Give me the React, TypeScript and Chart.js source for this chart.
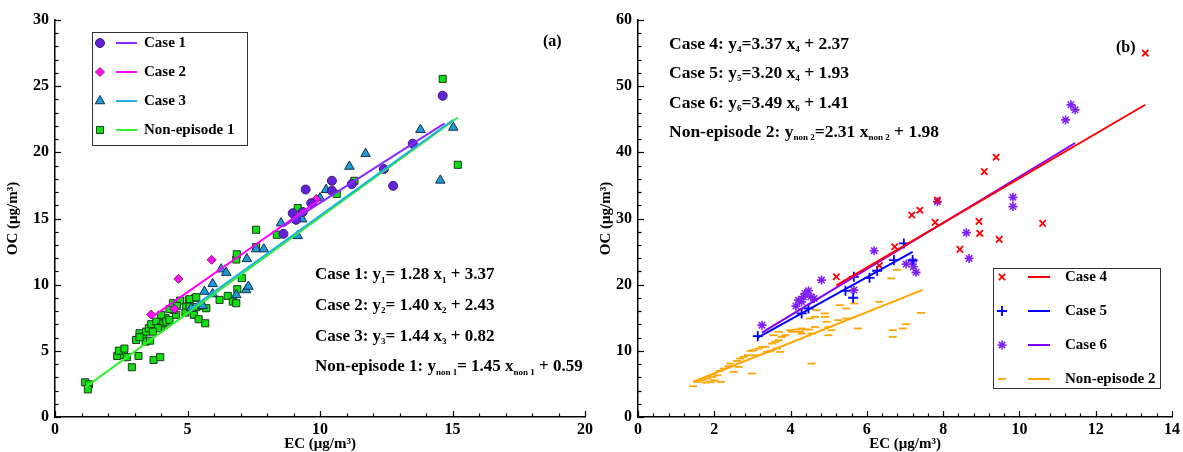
import React, { useEffect, useRef } from 'react';
import { Chart, registerables } from 'chart.js';
import { drawPoint } from 'chart.js/helpers';

Chart.register(...registerables);

const FONT = '"Liberation Serif", "Times New Roman", serif';

// ---------------- Panel (a) data ----------------
const labelsA = ['Case 1', 'Case 2', 'Case 3', 'Non-episode 1'];

const case1EC = [8.62, 8.97, 9.1, 9.35, 9.67, 9.46, 10.45, 10.45, 11.2, 12.41, 12.76, 13.5, 14.63];
const case1OC = [13.84, 15.4, 14.9, 15.5, 16.16, 17.19, 17.85, 17.1, 17.6, 18.74, 17.47, 20.65, 24.28];

const case2EC = [3.63, 4.51, 4.66, 5.91, 9.86];
const case2OC = [7.74, 8.17, 10.44, 11.88, 16.47];

const case3EC = [5.14, 5.58, 5.64, 5.95, 5.95, 6.27, 6.46, 6.84, 7.21, 7.3, 7.24, 7.59, 7.88, 8.53, 9.16, 9.33, 10.0, 10.23, 11.11, 11.72, 13.79, 14.54, 15.03];
const case3OC = [8.22, 8.4, 9.48, 10.06, 9.3, 11.17, 10.91, 9.23, 9.6, 9.86, 11.95, 12.69, 12.69, 14.65, 13.69, 14.95, 16.54, 17.17, 18.93, 19.9, 21.71, 17.88, 21.88];

const non1EC = [1.14, 1.28, 1.24, 2.9, 2.35, 2.6, 2.41, 2.62, 2.71, 3.15, 3.72, 3.97, 3.06, 3.19, 3.31, 3.42, 3.59, 3.44, 3.54, 3.63, 3.82, 4.01, 4.09, 4.17, 4.01, 4.2, 4.32, 3.88, 3.69, 3.19, 4.57, 4.48, 4.32, 4.72, 4.45, 5.05, 5.29, 4.95, 4.92, 5.33, 5.52, 5.71, 5.24, 5.42, 5.67, 6.21, 6.52, 6.71, 6.84, 6.88, 7.05, 6.84, 6.86, 7.59, 7.59, 8.37, 9.16, 10.63, 11.3, 14.63, 15.2, 5.08, 5.33, 5.08, 4.6];
const non1OC = [2.62, 2.47, 2.09, 3.76, 4.61, 4.69, 5.01, 5.17, 4.52, 4.61, 4.31, 4.52, 5.82, 6.33, 6.07, 5.7, 5.77, 6.45, 6.71, 7.01, 7.21, 6.83, 7.08, 7.47, 7.72, 7.21, 7.34, 6.71, 6.45, 6.03, 7.72, 8.09, 8.15, 8.8, 8.6, 8.85, 8.98, 8.34, 7.89, 8.3, 8.4, 8.22, 7.72, 7.39, 7.08, 8.85, 9.15, 8.72, 8.6, 9.66, 10.49, 11.9, 12.3, 12.84, 14.15, 13.77, 15.79, 16.85, 17.85, 25.55, 19.06, 8.9, 9.05, 8.34, 8.4];

// fitted lines (end points)
const fit1EC = [8.6, 14.7];
const fit1OC = [14.38, 22.19];
const fit2EC = [3.63, 9.92];
const fit2OC = [7.51, 16.32];
const fit3EC = [5.14, 15.03];
const fit3OC = [8.22, 22.46];
const fitN1EC = [1.14, 15.2];
const fitN1OC = [2.24, 22.63];

// ---------------- Panel (b) data ----------------
const labelsB = ['Case 4', 'Case 5', 'Case 6', 'Non-episode 2'];

const case4EC = [5.2, 6.33, 6.73, 7.18, 7.39, 7.79, 7.85, 8.44, 8.94, 8.96, 9.08, 9.39, 9.47, 10.61, 13.3];
const case4OC = [21.19, 22.9, 25.73, 30.53, 31.24, 29.42, 32.8, 25.33, 29.57, 27.76, 37.08, 39.26, 26.85, 29.27, 55.0];

const case5EC = [3.14, 4.29, 4.47, 5.44, 5.64, 5.66, 6.07, 6.27, 6.71, 6.97, 7.2];
const case5OC = [12.21, 15.65, 16.4, 19.07, 18.02, 21.19, 21.04, 22.1, 23.72, 26.24, 23.72];

const case6EC = [3.25, 4.14, 4.21, 4.29, 4.34, 4.38, 4.47, 4.53, 4.62, 4.81, 5.66, 6.19, 7.03, 7.2, 7.22, 7.29, 7.85, 8.61, 8.68, 9.83, 9.83, 11.21, 11.35, 11.46];
const case6OC = [13.88, 16.76, 17.66, 17.4, 18.16, 18.67, 19.07, 18.16, 17.92, 20.69, 19.18, 25.13, 23.11, 23.46, 22.7, 21.86, 32.55, 27.86, 23.97, 33.2, 31.8, 44.9, 47.18, 46.42];

const non2EC = [1.45, 1.56, 1.69, 1.78, 1.91, 2.0, 2.17, 1.82, 1.95, 2.08, 2.14, 2.25, 2.38, 2.51, 2.42, 2.6, 2.68, 2.77, 2.64, 2.88, 2.95, 3.03, 3.08, 2.99, 3.16, 3.25, 3.34, 3.38, 3.47, 3.51, 3.6, 3.64, 3.69, 3.77, 3.73, 3.56, 3.69, 3.86, 3.99, 4.04, 4.16, 4.25, 4.29, 4.38, 4.49, 4.29, 4.55, 4.51, 4.64, 4.55, 4.68, 4.9, 4.99, 4.9, 4.94, 4.64, 5.07, 4.99, 5.29, 5.25, 5.46, 5.46, 5.67, 5.77, 6.33, 6.64, 6.79, 6.68, 6.68, 6.94, 7.03, 7.42];
const non2OC = [4.65, 5.3, 5.55, 5.2, 5.3, 5.55, 5.3, 5.81, 6.06, 6.31, 6.96, 7.32, 7.67, 6.81, 8.08, 8.48, 8.83, 9.08, 7.57, 9.33, 9.99, 10.1, 9.34, 6.57, 10.34, 10.6, 10.6, 9.84, 9.99, 11.1, 11.35, 10.34, 11.6, 12.1, 9.84, 12.36, 12.86, 12.36, 13.12, 12.86, 13.22, 12.86, 13.38, 13.22, 13.22, 12.61, 8.08, 14.89, 15.14, 12.61, 16.15, 15.65, 13.6, 15.14, 14.39, 13.6, 13.12, 12.36, 16.9, 14.64, 14.89, 16.4, 17.16, 13.38, 17.4, 20.95, 22.21, 13.12, 12.11, 13.38, 14.03, 15.74];

const fit4EC = [5.2, 13.3];
const fit4OC = [19.89, 47.19];
const fit5EC = [3.14, 7.2];
const fit5OC = [11.98, 24.97];
const fit6EC = [3.25, 11.46];
const fit6OC = [12.75, 41.41];
const fitN2EC = [1.45, 7.46];
const fitN2OC = [5.33, 19.21];

// ---------------- texts ----------------
type Seg = { t: string; sub?: boolean };
const eqA: Seg[][] = [
  [{ t: 'Case 1: y' }, { t: '1', sub: true }, { t: '= 1.28 x' }, { t: '1', sub: true }, { t: ' + 3.37' }],
  [{ t: 'Case 2: y' }, { t: '2', sub: true }, { t: '= 1.40 x' }, { t: '2', sub: true }, { t: ' + 2.43' }],
  [{ t: 'Case 3: y' }, { t: '3', sub: true }, { t: '= 1.44 x' }, { t: '3', sub: true }, { t: ' + 0.82' }],
  [{ t: 'Non-episode 1: y' }, { t: 'non 1', sub: true }, { t: '= 1.45 x' }, { t: 'non 1', sub: true }, { t: ' + 0.59' }],
];
const eqB: Seg[][] = [
  [{ t: 'Case 4: y' }, { t: '4', sub: true }, { t: '=3.37 x' }, { t: '4', sub: true }, { t: ' + 2.37' }],
  [{ t: 'Case 5: y' }, { t: '5', sub: true }, { t: '=3.20 x' }, { t: '4', sub: true }, { t: ' + 1.93' }],
  [{ t: 'Case 6: y' }, { t: '6', sub: true }, { t: '=3.49 x' }, { t: '6', sub: true }, { t: ' + 1.41' }],
  [{ t: 'Non-episode 2: y' }, { t: 'non 2', sub: true }, { t: '=2.31 x' }, { t: 'non 2', sub: true }, { t: ' + 1.98' }],
];
const panelLabelA = '(a)';
const panelLabelB = '(b)';
const xTitle = 'EC (μg/m³)';
const yTitle = 'OC (μg/m³)';

// ---------------- styles ----------------
interface St { pointStyle: any; radius: number; fill: string; stroke: string; bw: number; line: string; order: number }
const stylesA: St[] = [
  { pointStyle: 'circle', radius: 4.5, fill: '#6322D6', stroke: '#3A1A7A', bw: 1, line: '#8A2BFF', order: 1 },
  { pointStyle: 'rectRot', radius: 4.5, fill: '#FF10F0', stroke: '#7A1A7A', bw: 1, line: '#FF00FF', order: 2 },
  { pointStyle: 'triangle', radius: 5.5, fill: '#1E9BD7', stroke: '#10304A', bw: 1, line: '#22AEE8', order: 3 },
  { pointStyle: 'rect', radius: 5, fill: '#10E010', stroke: '#1A3A1A', bw: 1, line: '#30F030', order: 4 },
];
const stylesB: St[] = [
  { pointStyle: 'crossRot', radius: 4.5, fill: '#FF0000', stroke: '#FF0000', bw: 1.8, line: '#FF0000', order: 1 },
  { pointStyle: 'cross', radius: 5, fill: '#0000FF', stroke: '#0000FF', bw: 1.8, line: '#0000FF', order: 2 },
  { pointStyle: 'star', radius: 4.5, fill: '#7F22F0', stroke: '#7F22F0', bw: 1.6, line: '#7F00FF', order: 3 },
  { pointStyle: 'line', radius: 4, fill: '#FFA500', stroke: '#FFA500', bw: 1.8, line: '#FFA500', order: 4 },
];

function pts(xs: number[], ys: number[]) {
  return xs.map((x, i) => ({ x, y: ys[i] }));
}

function buildDatasets(labels: string[], ecs: number[][], ocs: number[][], fe: number[][], fo: number[][], styles: St[]) {
  const ds: any[] = [];
  labels.forEach((lab, i) => {
    const st = styles[i];
    ds.push({
      label: lab,
      data: pts(ecs[i], ocs[i]),
      showLine: false,
      pointStyle: st.pointStyle,
      pointRadius: st.radius,
      pointBackgroundColor: st.fill,
      pointBorderColor: st.stroke,
      pointBorderWidth: st.bw,
      order: st.order,
    });
    ds.push({
      label: lab + ' fit',
      data: pts(fe[i], fo[i]),
      showLine: true,
      pointRadius: 0,
      borderColor: st.line,
      borderWidth: 2,
      fill: false,
      order: 0,
    });
  });
  return ds;
}

function drawRich(ctx: CanvasRenderingContext2D, segs: Seg[], x: number, y: number, size: number, subSize: number) {
  let cx = x;
  ctx.textBaseline = 'middle';
  ctx.textAlign = 'left';
  ctx.fillStyle = '#000';
  for (const s of segs) {
    if (s.sub) {
      ctx.font = `bold ${subSize}px ${FONT}`;
      ctx.fillText(s.t, cx, y + size * 0.32);
    } else {
      ctx.font = `bold ${size}px ${FONT}`;
      ctx.fillText(s.t, cx, y);
    }
    cx += ctx.measureText(s.t).width;
  }
}

interface LegendLayout { box: [number, number, number, number]; y0: number; gap: number; mx: number; l0: number; l1: number; tx: number; size: number }

function drawLegend(ctx: CanvasRenderingContext2D, labels: string[], styles: St[], L: LegendLayout) {
  ctx.save();
  ctx.strokeStyle = '#333';
  ctx.lineWidth = 1;
  ctx.strokeRect(L.box[0] + 0.5, L.box[1] + 0.5, L.box[2], L.box[3]);
  labels.forEach((lab, i) => {
    const st = styles[i];
    const y = L.y0 + i * L.gap;
    ctx.fillStyle = st.fill;
    ctx.strokeStyle = st.stroke;
    ctx.lineWidth = st.bw;
    drawPoint(ctx, { pointStyle: st.pointStyle, radius: st.radius, borderWidth: st.bw, rotation: 0 } as any, L.mx, y);
    ctx.beginPath();
    ctx.strokeStyle = st.line;
    ctx.lineWidth = 2;
    ctx.moveTo(L.l0, y);
    ctx.lineTo(L.l1, y);
    ctx.stroke();
    ctx.fillStyle = '#000';
    ctx.font = `bold ${L.size}px ${FONT}`;
    ctx.textBaseline = 'middle';
    ctx.textAlign = 'left';
    ctx.fillText(lab, L.tx, y);
  });
  ctx.restore();
}

const inwardTicks = {
  id: 'inwardTicks',
  afterDraw(chart: any) {
    const ctx = chart.ctx;
    const { left, bottom } = chart.chartArea;
    ctx.save();
    ctx.strokeStyle = '#000';
    ctx.lineWidth = 1.2;
    const xs = chart.scales.x;
    xs.ticks.forEach((t: any) => {
      const p = Math.round(xs.getPixelForValue(t.value)) + 0.5;
      const len = t.label !== '' ? 6 : 3.5;
      ctx.beginPath();
      ctx.moveTo(p, bottom);
      ctx.lineTo(p, bottom - len);
      ctx.stroke();
    });
    const ys = chart.scales.y;
    ys.ticks.forEach((t: any) => {
      const p = Math.round(ys.getPixelForValue(t.value)) + 0.5;
      const len = t.label !== '' ? 6 : 3.5;
      ctx.beginPath();
      ctx.moveTo(left, p);
      ctx.lineTo(left + len, p);
      ctx.stroke();
    });
    ctx.restore();
  },
};

function isMult(v: number, m: number) {
  return Math.abs(v / m - Math.round(v / m)) < 1e-6;
}

function makeScales(xMax: number, xStep: number, xMajor: number, yMax: number, yStep: number, yMajor: number, yWidth: number, yTitlePad: number) {
  const tickFont = { family: FONT, size: 16, weight: 'bold' as const };
  const titleFont = { family: FONT, size: 15, weight: 'bold' as const, lineHeight: 1 };
  return {
    x: {
      type: 'linear' as const,
      min: 0,
      max: xMax,
      afterFit(s: any) { s.height = 35; },
      grid: { display: false, drawTicks: false, tickLength: 0 },
      border: { display: true, color: '#000', width: 1.5 },
      ticks: {
        stepSize: xStep,
        autoSkip: false,
        maxRotation: 0,
        padding: 3,
        color: '#000',
        font: tickFont,
        callback: (v: any) => (isMult(Number(v), xMajor) ? String(Math.round(Number(v))) : ''),
      },
      title: { display: true, text: xTitle, color: '#000', font: titleFont, padding: { top: 0, bottom: 0 } },
    },
    y: {
      type: 'linear' as const,
      min: 0,
      max: yMax,
      afterFit(s: any) { s.width = yWidth; },
      grid: { display: false, drawTicks: false, tickLength: 0 },
      border: { display: true, color: '#000', width: 1.5 },
      ticks: {
        stepSize: yStep,
        autoSkip: false,
        padding: 6,
        color: '#000',
        font: tickFont,
        callback: (v: any) => (isMult(Number(v), yMajor) ? String(Math.round(Number(v))) : ''),
      },
      title: { display: true, text: yTitle, color: '#000', font: titleFont, padding: { top: yTitlePad, bottom: yTitlePad } },
    },
  };
}

export default function App() {
  const refA = useRef<HTMLCanvasElement>(null);
  const refB = useRef<HTMLCanvasElement>(null);

  useEffect(() => {
    const decoA = {
      id: 'decoA',
      afterDraw(chart: any) {
        const ctx = chart.ctx;
        ctx.save();
        drawLegend(ctx, labelsA, stylesA, { box: [92, 32, 155, 113], y0: 43, gap: 29, mx: 100, l0: 116, l1: 137, tx: 144, size: 15 });
        eqA.forEach((segs, i) => drawRich(ctx, segs, 315, 275 + i * 30.7, 17, 9));
        ctx.font = `bold 16px ${FONT}`;
        ctx.fillStyle = '#000';
        ctx.textAlign = 'left';
        ctx.textBaseline = 'middle';
        ctx.fillText(panelLabelA, 543, 42);
        ctx.restore();
      },
    };
    const decoB = {
      id: 'decoB',
      afterDraw(chart: any) {
        const ctx = chart.ctx;
        ctx.save();
        drawLegend(ctx, labelsB, stylesB, { box: [399, 268, 167, 120], y0: 277, gap: 34, mx: 408, l0: 434, l1: 456, tx: 471, size: 15 });
        eqB.forEach((segs, i) => drawRich(ctx, segs, 75, 44 + i * 29.5, 17.5, 9));
        ctx.font = `bold 16px ${FONT}`;
        ctx.fillStyle = '#000';
        ctx.textAlign = 'left';
        ctx.textBaseline = 'middle';
        ctx.fillText(panelLabelB, 522, 48);
        ctx.restore();
      },
    };

    const chartA = new Chart(refA.current!, {
      type: 'scatter',
      data: {
        datasets: buildDatasets(
          labelsA,
          [case1EC, case2EC, case3EC, non1EC],
          [case1OC, case2OC, case3OC, non1OC],
          [fit1EC, fit2EC, fit3EC, fitN1EC],
          [fit1OC, fit2OC, fit3OC, fitN1OC],
          stylesA,
        ),
      },
      options: {
        responsive: false,
        animation: false,
        events: [],
        layout: { padding: { left: 0, top: 20, right: 15, bottom: 0 } },
        plugins: { legend: { display: false }, tooltip: { enabled: false } },
        scales: makeScales(20, 1, 5, 30, 1, 5, 55, 6) as any,
      },
      plugins: [inwardTicks, decoA],
    });

    const chartB = new Chart(refB.current!, {
      type: 'scatter',
      data: {
        datasets: buildDatasets(
          labelsB,
          [case4EC, case5EC, case6EC, non2EC],
          [case4OC, case5OC, case6OC, non2OC],
          [fit4EC, fit5EC, fit6EC, fitN2EC],
          [fit4OC, fit5OC, fit6OC, fitN2OC],
          stylesB,
        ),
      },
      options: {
        responsive: false,
        animation: false,
        events: [],
        layout: { padding: { left: 0, top: 20, right: 7, bottom: 0 } },
        plugins: { legend: { display: false }, tooltip: { enabled: false } },
        scales: makeScales(14, 0.4, 2, 60, 2, 10, 44, 4.5) as any,
      },
      plugins: [inwardTicks, decoB],
    });

    return () => {
      chartA.destroy();
      chartB.destroy();
    };
  }, []);

  return (
    <div style={{ position: 'fixed', left: 0, top: 0, width: 1183, height: 452, background: '#fff' }}>
      <canvas ref={refA} width={600} height={452} style={{ position: 'absolute', left: 0, top: 0 }} />
      <canvas ref={refB} width={589} height={452} style={{ position: 'absolute', left: 594, top: 0 }} />
    </div>
  );
}
